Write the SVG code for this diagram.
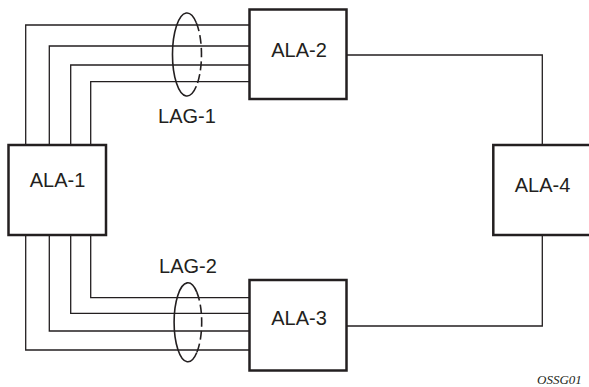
<svg xmlns="http://www.w3.org/2000/svg" width="589" height="387" viewBox="0 0 589 387">
<style>
.box{fill:#fff;stroke:#231f20;stroke-width:2.5}
.ln{fill:none;stroke:#231f20;stroke-width:1.3}
.lag{fill:none;stroke:#231f20;stroke-width:1.6}
.dash{fill:none;stroke:#231f20;stroke-width:1.6;stroke-dasharray:9 4}
.lbl{font-family:"Liberation Sans",Arial,sans-serif;font-size:20px;fill:#231f20;text-anchor:middle}
.fig{font-family:"Liberation Serif","Times New Roman",serif;font-style:italic;font-size:13px;fill:#231f20}
</style>
<rect width="589" height="387" fill="#fff"/>
<g id="connectors">
<path class="ln" d="M25.7,145 V25 H249.5"/>
<path class="ln" d="M49.3,145 V46 H249.5"/>
<path class="ln" d="M70.7,145 V65 H249.5"/>
<path class="ln" d="M90.7,145 V81.7 H249.5"/>
<path class="ln" d="M25.7,235 V350 H249.5"/>
<path class="ln" d="M49.3,235 V331 H249.5"/>
<path class="ln" d="M70.7,235 V313.3 H249.5"/>
<path class="ln" d="M90.7,235 V297.7 H249.5"/>
<path class="ln" d="M346.5,55 H542.3 V145"/>
<path class="ln" d="M346.5,326 H542.3 V235"/>
</g>
<g id="lag1">
<path class="dash" d="M196.3,22.7 A14.5,41.5 0 0 1 196.3,86.3"/>
<path class="lag" d="M196.3,22.7 A14.5,41.5 0 1 0 196.3,86.3"/>
<text class="lbl" x="187" y="122.5">LAG-1</text>
</g>
<g id="lag2">
<path class="dash" d="M196.8,292.1 A13.8,39.5 0 0 1 196.8,352.5"/>
<path class="lag" d="M196.8,292.1 A13.8,39.5 0 1 0 196.8,352.5"/>
<text class="lbl" x="188" y="272.7">LAG-2</text>
</g>
<g id="ala1">
<rect class="box" x="8.5" y="145" width="97.5" height="90"/>
<text class="lbl" x="57.5" y="186.7">ALA-1</text>
</g>
<g id="ala2">
<rect class="box" x="249.5" y="9.5" width="97" height="89.5"/>
<text class="lbl" x="299" y="56.7">ALA-2</text>
</g>
<g id="ala3">
<rect class="box" x="249.5" y="280" width="97" height="90.5"/>
<text class="lbl" x="299" y="325">ALA-3</text>
</g>
<g id="ala4">
<rect class="box" x="493.3" y="145" width="99" height="90"/>
<text class="lbl" x="542.5" y="191.7">ALA-4</text>
</g>
<text class="fig" x="537" y="384">OSSG01</text>
</svg>
